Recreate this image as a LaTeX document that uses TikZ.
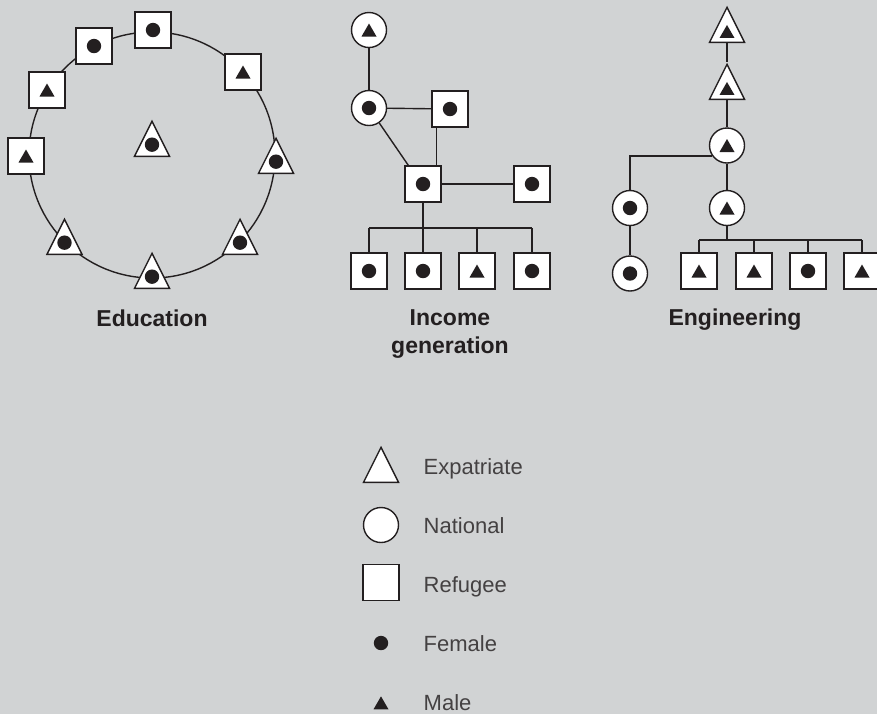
\documentclass[tikz,border=0pt]{standalone}
\usepackage{fontspec}
\setmainfont{Liberation Sans}
\usepackage{xcolor}
\usepackage{tikz}
\usetikzlibrary{shapes.geometric,calc}
\definecolor{panel}{RGB}{209,211,212}
\definecolor{ink}{RGB}{35,31,32}

\begin{document}
\begin{tikzpicture}[
    x=0.5pt, y=-0.5pt,
    line width=0.7pt, color=ink,
    mkpos/.store in=\mkpos,
    refugee/.style={draw, fill=white, rectangle, inner sep=0pt, minimum size=18pt, mkpos=0.5},
    national/.style={draw, fill=white, circle, inner sep=0pt, minimum size=17.5pt, mkpos=0.5},
    expat/.style={draw, fill=white, isosceles triangle, shape border rotate=90, isosceles triangle stretches,
        inner sep=0pt, minimum width=17.5pt, minimum height=17.5pt, anchor=lower side, mkpos=0.333},
    fem/.style={path picture={\fill[ink] ($(path picture bounding box.south)!\mkpos!(path picture bounding box.north)$) circle (3.6pt);}},
    male/.style={path picture={\fill[ink, shift={($(path picture bounding box.south)!\mkpos!(path picture bounding box.north)$)}]
        (0,3.25pt) -- (-3.75pt,-3.25pt) -- (3.75pt,-3.25pt) -- cycle;}},
    femdot/.style={circle, fill=ink, inner sep=0pt, minimum size=7.2pt},
    maletri/.style={regular polygon, regular polygon sides=3, fill=ink, inner sep=0pt, minimum size=8.66pt},
    title/.style={font=\fontsize{11.5}{14}\selectfont\bfseries, text=ink, align=center, anchor=base, inner sep=0pt},
    key/.style={font=\fontsize{11}{13}\selectfont, text=ink!85, anchor=base west, inner sep=0pt}
]
\fill[panel] (0,0) rectangle (877,714);
\useasboundingbox (0,0) rectangle (877,714);

% Education
\draw (152,155) circle[radius=61.5pt];
\node[refugee, fem] (ed1) at (153,30) {};
\node[refugee, fem] (ed2) at (94,46) {};
\node[refugee, male] (ed3) at (47,90) {};
\node[refugee, male] (ed4) at (26,156) {};
\node[refugee, male] (ed5) at (243,72) {};
\node[expat, fem] (ed6) at (276,174) {};
\node[expat, fem] (ed7) at (240,255) {};
\node[expat, fem] (ed8) at (152,289) {};
\node[expat, fem] (ed9) at (64.5,255) {};
\node[expat, fem] (ed10) at (152,157) {};
\node[title] (edlbl) at (152,326) {Education};

% Income generation
\node[national, male] (in1) at (369,30) {};
\node[national, fem] (in2) at (369,108) {};
\node[refugee, fem] (in3) at (450,109) {};
\node[refugee, fem] (in4) at (423,184) {};
\node[refugee, fem] (in5) at (532,184) {};
\node[refugee, fem] (in6) at (369,271) {};
\node[refugee, fem] (in7) at (423,271) {};
\node[refugee, male] (in8) at (477,271) {};
\node[refugee, fem] (in9) at (532,271) {};
\coordinate (inbar) at (0,228);

\draw (in1) -- (in2);
\draw (in2) -- (in3);
\draw (in2) -- ([xshift=2pt]in4.north west);
\draw ([xshift=2.5pt]in3.south west) -- ([xshift=2.5pt]in3.south west |- in4.north);
\draw (in4) -- (in5);
\draw (in4.south) -- (in4.south |- inbar);
\draw (in6.north |- inbar) -- (in9.north |- inbar);
\foreach \k in {6,...,9} \draw (in\k.north) -- (in\k.north |- inbar);
\node[title] (inlbl) at (450,353) {Income\\generation};

% Engineering
\node[expat, male] (en1) at (727,43) {};
\node[expat, male] (en2) at (727,100) {};
\node[national, male] (en3) at (727,145.5) {};
\node[national, fem] (en4) at (630,208) {};
\node[national, male] (en5) at (727,208) {};
\node[national, fem] (en6) at (630,273.5) {};
\node[refugee, male] (en7) at (699,271) {};
\node[refugee, male] (en8) at (754,271) {};
\node[refugee, fem] (en9) at (808,271) {};
\node[refugee, male] (en10) at (862,271) {};
\coordinate (enbar) at (0,240);

\draw (en1.lower side) -- (en2.apex);
\draw (en2.lower side) -- (en3);
\draw (en3) -- (en5);
\draw (en3.215) -| (en4.north);
\draw (en4) -- (en6);
\draw (en5.south) -- (en5.south |- enbar);
\draw (en7.north |- enbar) -- (en10.north |- enbar);
\foreach \k in {7,...,10} \draw (en\k.north) -- (en\k.north |- enbar);
\node[title] (enlbl) at (735,325) {Engineering};

% Legend
\node[expat] (lgexp) at (381,483) {};
\node[national] (lgnat) at (381,525) {};
\node[refugee] (lgref) at (381,582.5) {};
\node[femdot] (lgfem) at (381,643) {};
\node[maletri] (lgmale) at (381,705) {};
\node[key] (lgexptxt) at (423,474) {Expatriate};
\node[key] (lgnattxt) at (423,533) {National};
\node[key] (lgreftxt) at (423,592) {Refugee};
\node[key] (lgfemtxt) at (423,651) {Female};
\node[key] (lgmaletxt) at (423,710) {Male};
\end{tikzpicture}
\end{document}
